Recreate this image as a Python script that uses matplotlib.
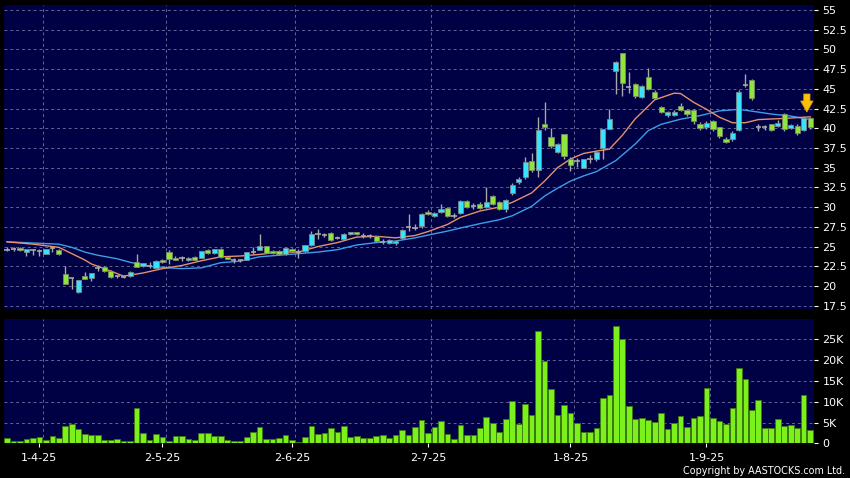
import numpy as np
import matplotlib
matplotlib.use("Agg")
import matplotlib.pyplot as plt

# daily bars, 25-Mar-25 .. 23-Sep-25 (index 0..124)
opens = [24.6, 24.75, 24.85, 24.3, 24.5, 24.45, 24.1, 24.8, 24.6, 21.55,
         20.95, 19.25, 21.25, 21.05, 22.3, 22.4, 21.85, 21.25, 21.2, 21.25,
         23.0, 22.5, 22.5, 22.3, 23.35, 24.3, 23.6, 23.5, 23.25, 23.7,
         23.6, 24.6, 24.2, 24.7, 23.7, 23.35, 23.3, 23.35, 24.35, 24.55,
         25.05, 24.4, 24.4, 24.0, 24.75, 24.3, 24.4, 25.2, 26.55, 26.5,
         26.75, 26.1, 25.9, 26.55, 26.8, 26.3, 26.4, 26.3, 25.6, 25.45,
         25.4, 26.1, 27.5, 27.4, 27.6, 29.4, 28.9, 29.4, 29.95, 28.85,
         29.2, 30.75, 30.1, 30.45, 30.05, 31.4, 30.65, 29.7, 31.8, 33.15,
         33.8, 35.9, 34.7, 40.6, 38.95, 37.05, 39.25, 36.1, 35.9, 35.0,
         36.05, 36.05, 37.45, 39.95, 47.2, 49.5, 45.2, 45.6, 44.0, 46.55,
         44.65, 42.65, 41.65, 41.65, 42.85, 42.3, 42.35, 40.6, 40.1, 40.95,
         40.1, 38.7, 38.6, 39.8, 45.5, 46.1, 40.1, 40.1, 40.5, 40.3,
         41.8, 40.0, 40.3, 39.75, 41.25]
highs = [24.9, 24.95, 24.95, 24.7, 24.7, 24.7, 24.75, 25.0, 24.7, 22.5,
         21.0, 20.75, 21.75, 21.7, 22.6, 22.5, 22.0, 21.45, 21.45, 21.85,
         24.1, 22.9, 23.05, 23.3, 23.45, 24.55, 23.8, 23.75, 23.7, 23.8,
         24.45, 24.7, 24.75, 24.8, 23.8, 23.6, 23.45, 24.35, 24.95, 26.65,
         25.1, 24.5, 24.5, 24.9, 24.85, 24.7, 25.25, 26.95, 27.25, 26.75,
         26.85, 26.35, 26.7, 26.85, 26.85, 26.75, 26.6, 26.4, 26.0, 25.9,
         25.85, 27.2, 29.1, 27.8, 29.2, 29.6, 29.35, 30.4, 30.0, 29.2,
         30.85, 30.85, 30.5, 30.6, 32.5, 31.5, 30.8, 31.0, 33.0, 33.8,
         36.4, 36.9, 41.4, 43.3, 40.0, 38.1, 39.3, 36.4, 36.2, 36.1,
         36.6, 37.1, 39.9, 42.5, 48.5, 49.6, 47.1, 45.7, 45.5, 47.6,
         44.8, 42.8, 42.2, 42.3, 43.2, 42.5, 42.4, 40.8, 40.9, 41.1,
         40.2, 38.9, 39.6, 44.8, 46.9, 46.3, 40.6, 40.4, 40.6, 41.0,
         41.9, 40.6, 40.5, 41.4, 41.4]
lows = [24.4, 24.45, 24.4, 23.8, 23.9, 23.8, 24.0, 24.3, 23.9, 20.2,
        19.65, 19.05, 20.85, 20.6, 21.9, 21.8, 21.0, 21.0, 21.0, 21.2,
        22.4, 22.4, 22.25, 22.25, 22.9, 22.8, 23.3, 23.2, 23.2, 23.3,
        23.5, 24.1, 24.1, 23.6, 23.4, 22.95, 23.0, 23.3, 24.1, 24.5,
        24.15, 24.1, 23.95, 23.95, 24.35, 23.6, 24.35, 25.1, 25.9, 26.2,
        25.75, 25.9, 25.85, 26.5, 26.45, 26.1, 26.1, 25.6, 25.3, 25.35,
        25.2, 26.0, 27.0, 27.1, 27.4, 29.0, 28.8, 29.3, 28.8, 28.6,
        29.1, 29.9, 29.8, 29.8, 29.95, 30.3, 29.6, 29.4, 31.5, 32.9,
        33.6, 34.5, 33.8, 39.8, 37.55, 36.9, 36.05, 34.6, 35.1, 34.9,
        35.6, 35.8, 36.05, 39.9, 44.3, 44.1, 44.5, 43.9, 43.9, 44.9,
        43.7, 41.9, 41.4, 41.5, 42.2, 41.6, 40.5, 39.8, 39.9, 39.6,
        38.8, 38.1, 38.4, 39.6, 45.2, 43.6, 39.6, 39.8, 39.6, 40.2,
        39.7, 39.9, 39.1, 39.6, 39.9]
closes = [24.6, 24.75, 24.5, 24.65, 24.5, 24.45, 24.7, 24.8, 24.0, 20.3,
          20.95, 20.7, 20.9, 21.65, 22.3, 21.85, 21.15, 21.25, 21.2, 21.8,
          22.45, 22.85, 22.5, 23.2, 23.05, 23.45, 23.35, 23.5, 23.6, 23.35,
          24.4, 24.15, 24.7, 23.7, 23.45, 23.35, 23.3, 24.3, 24.35, 25.05,
          24.2, 24.2, 24.0, 24.85, 24.4, 24.3, 25.2, 26.55, 26.55, 26.5,
          25.8, 26.1, 26.65, 26.8, 26.55, 26.3, 26.4, 25.7, 25.6, 25.8,
          25.75, 27.15, 27.5, 27.4, 29.15, 29.1, 29.3, 29.8, 28.9, 28.85,
          30.75, 30.05, 30.1, 29.95, 30.7, 30.45, 29.75, 30.95, 32.75, 33.55,
          35.75, 34.7, 39.75, 40.2, 37.7, 38.05, 36.5, 35.3, 35.9, 36.05,
          36.05, 37.05, 39.85, 41.15, 48.4, 45.8, 45.2, 44.1, 45.4, 44.95,
          43.9, 42.1, 42.0, 42.1, 42.35, 41.8, 40.95, 40.0, 40.7, 39.85,
          39.0, 38.3, 39.35, 44.65, 45.5, 43.8, 40.1, 40.1, 39.75, 40.7,
          39.9, 40.4, 39.4, 41.25, 40.1]
volumes_k = [1.2, 0.56, 0.56, 1.0, 1.3, 1.6, 0.8, 1.7, 1.2, 4.2,
             4.6, 3.4, 2.3, 2.0, 2.0, 0.8, 0.9, 1.0, 0.64, 0.64,
             8.4, 2.4, 0.9, 2.3, 1.5, 0.56, 1.7, 1.7, 1.0, 0.8,
             2.5, 2.5, 1.7, 1.7, 0.9, 0.56, 0.56, 1.4, 2.6, 4.0,
             1.0, 1.0, 1.25, 2.0, 0.8, 0.4, 1.44, 4.1, 2.2, 2.4,
             3.6, 2.8, 4.2, 1.6, 1.8, 1.3, 1.2, 1.8, 2.0, 1.3,
             2.0, 3.2, 2.1, 3.9, 5.7, 2.5, 3.9, 5.3, 2.2, 1.0,
             4.5, 2.1, 2.1, 3.6, 6.4, 4.9, 2.8, 5.8, 10.2, 4.6,
             9.5, 6.8, 27.0, 19.8, 13.0, 6.8, 9.3, 7.4, 4.9, 2.6,
             2.7, 3.8, 11.0, 11.6, 28.2, 25.2, 9.0, 5.8, 6.2, 5.5,
             5.2, 7.3, 3.5, 4.8, 6.5, 4.0, 6.1, 6.5, 13.2, 6.1,
             5.4, 4.7, 8.4, 18.2, 15.5, 7.9, 10.4, 3.8, 3.8, 5.9,
             4.2, 4.4, 3.8, 11.5, 3.1]

# moving averages at selected bars
ma10_idx = [0, 4, 8, 9, 10, 11, 12, 13, 15, 18, 21, 24, 27, 30, 33, 36, 39, 42, 45,
            48, 51, 54, 57, 60, 63, 65, 68, 70, 73, 76, 78, 81, 83, 85, 87, 89, 91,
            93, 95, 97, 100, 103, 104, 106, 108, 110, 112, 114, 116, 120, 124]
ma10_val = [25.6, 25.3, 24.9, 24.5, 24.1, 23.7, 23.3, 22.8, 22.2, 21.25, 21.65, 22.2,
            22.6, 23.2, 23.7, 23.8, 24.0, 24.3, 24.3, 25.0, 25.5, 26.2, 26.3, 26.1,
            26.4, 26.9, 27.8, 28.7, 29.5, 30.0, 30.6, 31.8, 33.3, 35.0, 36.1, 36.8,
            37.1, 37.35, 39.1, 41.2, 43.6, 44.45, 44.4, 43.3, 42.4, 41.4, 40.7, 40.7,
            41.1, 41.25, 41.45]
ma20_idx = [0, 4, 8, 10, 12, 14, 17, 19, 22, 25, 27, 30, 33, 36, 39, 42, 45, 48, 51,
            54, 57, 60, 63, 65, 68, 70, 73, 76, 78, 81, 83, 85, 87, 89, 91, 94, 97,
            99, 101, 104, 107, 110, 113, 116, 118, 121, 124]
ma20_val = [25.6, 25.45, 25.3, 24.9, 24.3, 23.9, 23.45, 23.0, 22.5, 22.3, 22.2, 22.3,
            22.95, 23.15, 23.7, 23.9, 24.1, 24.3, 24.6, 25.2, 25.5, 25.7, 26.1, 26.45,
            26.96, 27.35, 27.9, 28.4, 28.9, 30.1, 31.4, 32.4, 33.3, 33.95, 34.5, 35.9,
            38.0, 39.7, 40.5, 41.15, 41.6, 42.2, 42.4, 42.05, 41.8, 41.55, 41.1]

month_idx = [5, 24, 44, 65, 87, 108]
month_lbl = ["1-4-25", "2-5-25", "2-6-25", "2-7-25", "1-8-25", "1-9-25"]

NAVY = "#000045"
GRID = "#64649a"
CYAN = "#36e4ff"
GREEN = "#8fe63a"
GREY = "#a8a8a8"

fig = plt.figure(figsize=(8.5, 4.78), dpi=100, facecolor="black")
W, H = 850.0, 478.0
ax = fig.add_axes([3.5 / W, 1 - 309 / H, (814 - 3.5) / W, (309 - 5) / H])
axv = fig.add_axes([3.5 / W, 1 - 443.3 / H, (814 - 3.5) / W, (443.3 - 319) / H])

n = len(closes)
x = np.arange(n)
o = np.array(opens); c = np.array(closes)
hi = np.array(highs); lo = np.array(lows)

for a in (ax, axv):
    a.set_facecolor(NAVY)
    a.set_xlim(-0.55, 124.6)
    for s in a.spines.values():
        s.set_visible(False)
    for m in month_idx:
        a.axvline(m + 0.5, color=GRID, lw=0.7, ls=(0, (3, 3)), zorder=0)

# price panel
yt = np.arange(17.5, 55.01, 2.5)
for v in yt:
    ax.axhline(v, color=GRID, lw=0.7, ls=(0, (3, 3)), zorder=0)
ax.set_ylim(17.08, 55.63)
ax.yaxis.tick_right()
ax.set_yticks(yt)
ax.set_yticklabels([f"{v:g}" for v in yt])
ax.tick_params(axis="y", colors="white", labelsize=8, length=3, width=0.8, pad=3)
ax.set_xticks([])

ax.plot(ma20_idx, ma20_val, color="#3c9ee6", lw=1.0, zorder=2)
ax.plot(ma10_idx, ma10_val, color="#e8906a", lw=1.0, zorder=2)

ax.vlines(x, lo, hi, color=GREY, lw=1.0, zorder=3)
up = c > o
dn = c < o
eq = c == o
bw = 0.8
ax.bar(x[up], (c - o)[up], bottom=o[up], width=bw, color=CYAN,
       edgecolor="#7a8a8a", linewidth=0.6, zorder=4)
ax.bar(x[dn], (o - c)[dn], bottom=c[dn], width=bw, color=GREEN,
       edgecolor="#7a8a6a", linewidth=0.6, zorder=4)
ax.hlines(c[eq], x[eq] - bw / 2, x[eq] + bw / 2, color=GREY, lw=1.2, zorder=4)

# marker arrow over the latest bar
ax.annotate("", xy=(n - 1.5, hi[-2] + 0.3), xytext=(n - 1.5, hi[-2] + 3.3),
            arrowprops=dict(arrowstyle="simple,head_width=0.9,head_length=0.8,tail_width=0.45",
                            fc="#ffc000", ec="#e0a000", lw=0.5), zorder=6)

# volume panel
vt = [0, 5, 10, 15, 20, 25]
for v in vt[1:]:
    axv.axhline(v, color=GRID, lw=0.7, ls=(0, (3, 3)), zorder=0)
axv.bar(x, volumes_k, width=0.88, color="#7cf01a", edgecolor="#3c7a10",
        linewidth=0.6, zorder=3)
axv.set_ylim(0, 29.9)
axv.yaxis.tick_right()
axv.set_yticks(vt)
axv.set_yticklabels(["0"] + [f"{v}K" for v in vt[1:]])
axv.tick_params(axis="y", colors="white", labelsize=8, length=3, width=0.8, pad=3)
axv.set_xticks(month_idx)
axv.set_xticklabels(month_lbl)
axv.tick_params(axis="x", colors="white", labelsize=8, length=3, width=0.8, pad=4)

fig.text(845 / W, 1 - 471 / H, "Copyright by AASTOCKS.com Ltd.", color="white",
         fontsize=6.9, ha="right", va="center")

fig.savefig("out.png", dpi=100, facecolor="black")
